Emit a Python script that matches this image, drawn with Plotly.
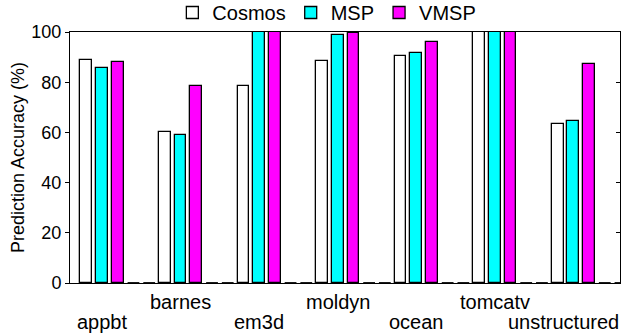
import plotly.graph_objects as go

categories = ["appbt", "barnes", "em3d", "moldyn", "ocean", "tomcatv", "unstructured"]
cosmos = [89.0, 60.0, 78.5, 88.3, 90.4, 100, 63.5]
msp = [85.8, 59.1, 100, 98.7, 91.6, 100, 64.7]
vmsp = [88.0, 78.4, 100, 99.5, 95.9, 100, 87.4]
empty_a = [0, 0, 0, 0, 0, 0, 0]
empty_b = [0, 0, 0, 0, 0, 0, 0]
y_ticks = [0, 20, 40, 60, 80, 100]

SLOTS = 5
BW = 0.75
FONT = "Liberation Sans, Arial, sans-serif"

series = [
    ("Cosmos", cosmos, "#ffffff"),
    ("MSP", msp, "#00ffff"),
    ("VMSP", vmsp, "#ff00ff"),
]

fig = go.Figure()
for s, (name, vals, col) in enumerate(series):
    xs = [g * SLOTS + s for g in range(len(categories))]
    fig.add_trace(go.Bar(
        x=xs, y=vals, name=name, width=BW,
        marker=dict(color=col, line=dict(color="#000000", width=1.3)),
    ))

# zero-valued series drawn as flat outlines on the baseline
dx, dy = [], []
for s, vals in ((3, empty_a), (4, empty_b)):
    for g, v in enumerate(vals):
        c = g * SLOTS + s
        dx += [c - BW / 2, c + BW / 2, None]
        dy += [v, v, None]
fig.add_trace(go.Scatter(x=dx, y=dy, mode="lines", showlegend=False,
                         line=dict(color="#000000", width=1.8), yaxis="y2",
                         hoverinfo="skip"))

# staggered category labels (last one kept inside the canvas)
for g, name in enumerate(categories):
    fig.add_annotation(
        x=g * SLOTS + 1, xref="x", y=(-0.0757 if g % 2 else -0.157), yref="paper",
        text=name, showarrow=False, xanchor="center", yanchor="middle",
        xshift=(-10 if g == len(categories) - 1 else 0),
        font=dict(family=FONT, size=20, color="#000000"),
    )

fig.add_annotation(
    x=0, xref="paper", xshift=-52.5, y=0.5, yref="paper",
    text="Prediction Accuracy (%)", textangle=-90, showarrow=False,
    xanchor="center", yanchor="middle",
    font=dict(family=FONT, size=18, color="#000000"),
)

fig.update_layout(
    width=624, height=333,
    margin=dict(l=70, r=4, t=32, b=50, autoexpand=False),
    plot_bgcolor="#ffffff", paper_bgcolor="#ffffff",
    barmode="overlay", bargap=0,
    font=dict(family=FONT, color="#000000"),
    legend=dict(orientation="h", x=0.467, xanchor="center", y=1.0, yanchor="bottom",
                font=dict(family=FONT, size=20), itemwidth=30,
                bgcolor="rgba(0,0,0,0)", traceorder="normal"),
    xaxis=dict(range=[-1.04, 33.97], showline=True, linecolor="#000000", linewidth=1,
               mirror=True, ticks="", showticklabels=False, showgrid=False, zeroline=False),
    yaxis=dict(range=[0, 100], tickvals=y_ticks, ticks="outside", ticklen=4,
               tickcolor="#000000", showline=True, linecolor="#000000", linewidth=1,
               mirror=True, showgrid=False, zeroline=False,
               tickfont=dict(family=FONT, size=18, color="#000000")),
    yaxis2=dict(range=[0, 100], tickvals=y_ticks, overlaying="y", side="right",
                ticks="inside", ticklen=4, tickcolor="#000000", showticklabels=False,
                showgrid=False, zeroline=False, showline=False),
)

fig.write_html("out.html", config={"displayModeBar": False},
               post_script="document.body.style.margin='0';document.body.style.overflow='hidden';")
